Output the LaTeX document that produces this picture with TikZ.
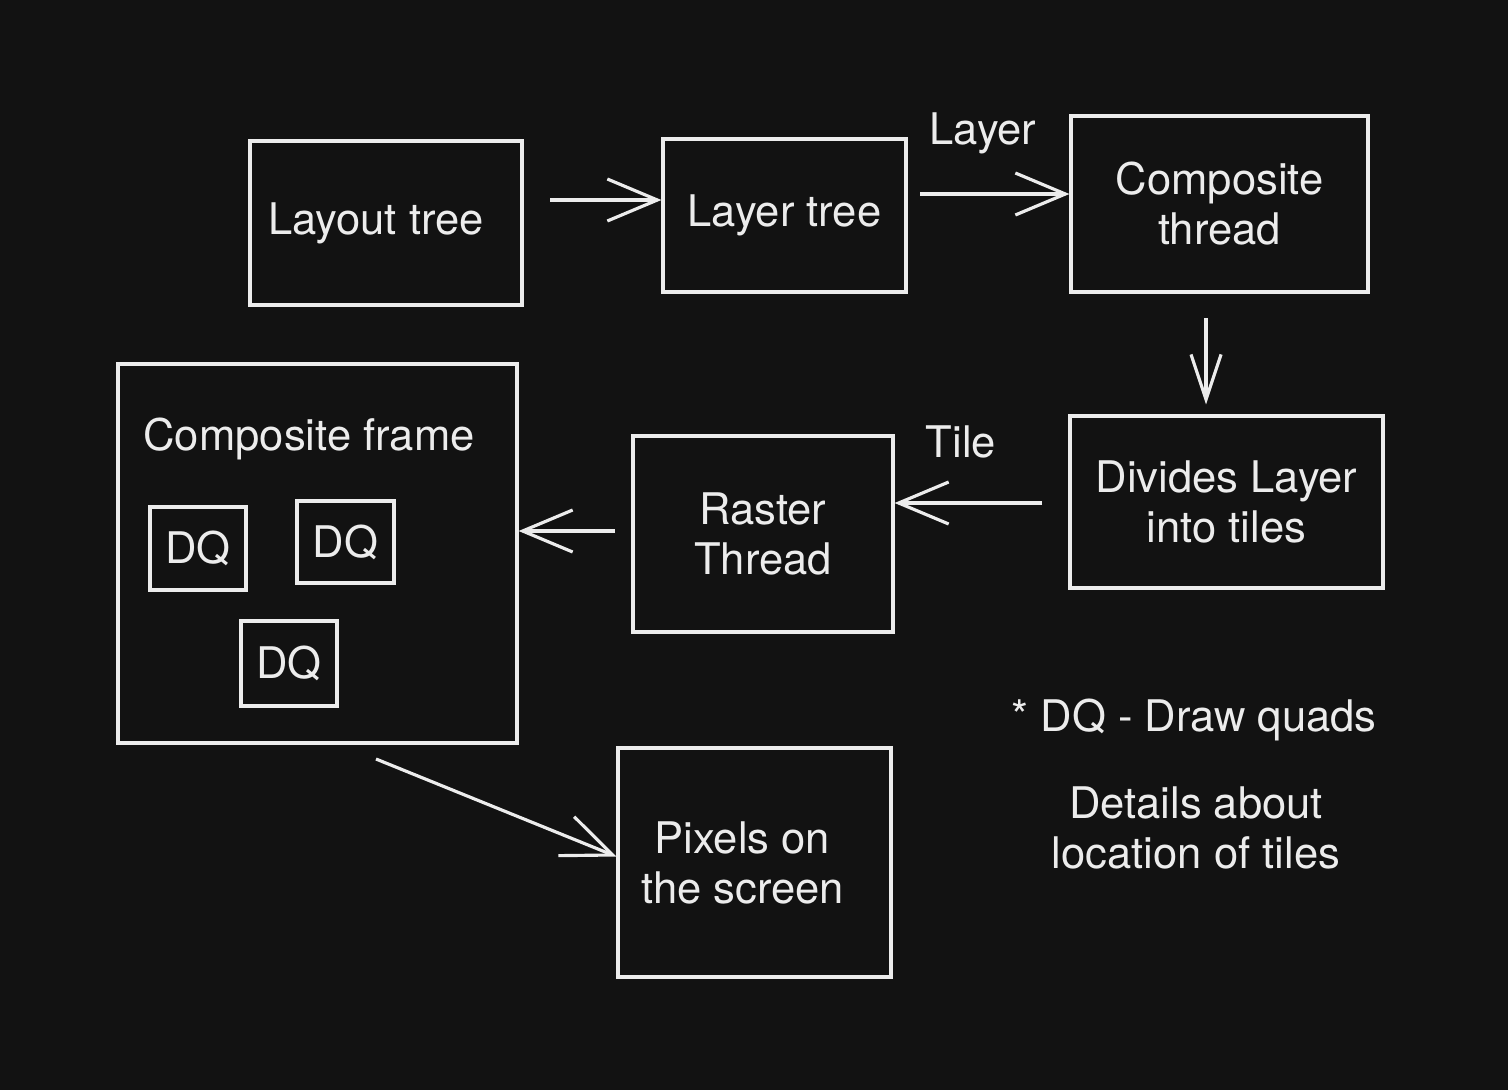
\documentclass[tikz,border=0pt]{standalone}
\usepackage{fontspec}
\setmainfont{TeX Gyre Heros}
\usepackage{tikz}
\usetikzlibrary{arrows.meta}
\usetikzlibrary{calc}
\definecolor{bgdark}{HTML}{121212}
\definecolor{chalk}{HTML}{ECECEC}

\begin{document}
\begin{tikzpicture}[
        box/.style={rectangle, draw=chalk, line width=0.9pt, text=chalk, align=center,
            font=\fontsize{12.4}{14.2}\selectfont, inner sep=0pt},
        lbl/.style={text=chalk, align=center, font=\fontsize{12.4}{14.2}\selectfont, inner sep=0pt},
        flow/.style={draw=chalk, line width=0.9pt, -{Straight Barb[length=5mm, width=4.2mm]}},
        drop/.style={draw=chalk, line width=0.9pt, -{Straight Barb[length=4.5mm, width=3mm]}}
    ]
        \fill[bgdark] (0,0) rectangle (15.08,10.90);
        \useasboundingbox (0,0) rectangle (15.08,10.90);

        % top row
        \node[box, minimum width=2.72cm, minimum height=1.64cm] (layout) at (3.86,8.67) {Layout tree\hspace{2mm}};
        \node[box, minimum width=2.43cm, minimum height=1.53cm] (layertree) at (7.845,8.745) {Layer tree};
        \node[box, minimum width=2.97cm, minimum height=1.76cm] (compthread) at (12.195,8.86) {Composite\\thread};

        % middle row
        \node[box, minimum width=3.13cm, minimum height=1.72cm] (divides) at (12.265,5.88) {Divides Layer\\into tiles};
        \node[box, minimum width=2.60cm, minimum height=1.96cm] (raster) at (7.63,5.56) {Raster\\Thread};
        \node[box, minimum width=3.99cm, minimum height=3.79cm] (frame) at (3.175,5.365) {};
        \node[lbl, anchor=base] (frametitle) at (3.09,6.40) {Composite frame};
        \node[box, minimum width=0.96cm, minimum height=0.83cm] (dqa) at (1.98,5.415) {DQ};
        \node[box, minimum width=0.97cm, minimum height=0.82cm] (dqb) at (3.455,5.48) {DQ};
        \node[box, minimum width=0.96cm, minimum height=0.85cm] (dqc) at (2.89,4.265) {DQ};

        % bottom
        \node[box, minimum width=2.73cm, minimum height=2.29cm] (pixels) at (7.545,2.275) {Pixels on\hspace*{2.4mm}\\the screen\hspace*{2.4mm}};

        % labels and notes
        \node[lbl] (layerlbl) at (9.83,9.57) {Layer};
        \node[lbl] (tilelbl) at (9.61,6.48) {Tile};
        \node[lbl] (dqnote) at (11.94,3.70) {* DQ - Draw quads};
        \node[lbl] (details) at (11.96,2.62) {Details about\\location of tiles};

        % arrow starts
        \coordinate (s1) at (5.50,8.90);
        \coordinate (s2) at (9.20,8.96);
        \coordinate (s3) at (12.06,7.72);
        \coordinate (s4) at (10.42,5.87);
        \coordinate (s5) at (6.15,5.59);
        \coordinate (s6) at (3.76,3.31);

        \draw[flow] (s1) -- (s1 -| layertree.west);
        \draw[flow] (s2) -- (s2 -| compthread.west);
        \draw[drop, shorten >=1mm] (s3) -- (s3 |- divides.north);
        \draw[flow] (s4) -- (s4 -| raster.east);
        \draw[flow] (s5) -- (s5 -| frame.east);
        \draw[flow] (s6) -- ($(pixels.west)+(0,0.06)$);
    \end{tikzpicture}
\end{document}
